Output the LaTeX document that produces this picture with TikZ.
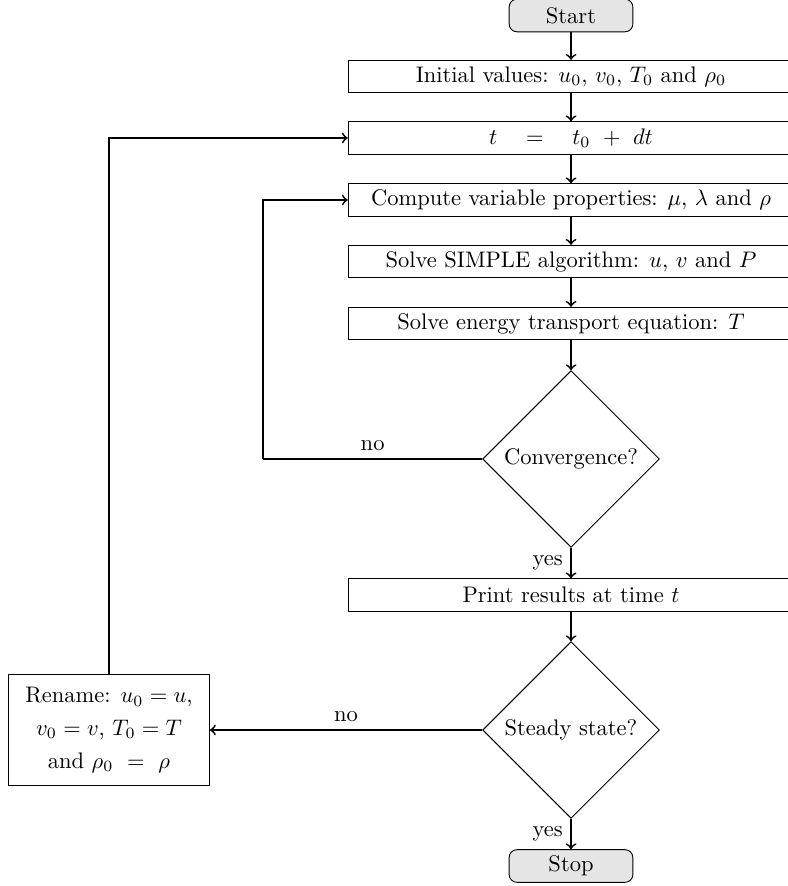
\documentclass[tikz,border=0pt]{standalone}
\usepackage{amsmath, amssymb}
\usepackage{tikz}
\usetikzlibrary{arrows, positioning, calc, shapes.geometric}

\tikzset{
  startstop/.style={draw, rounded corners=3.5pt, fill=gray!20, minimum width=55pt, minimum height=14.5pt, inner sep=1pt},
  process/.style={draw, minimum width=198pt, minimum height=14.4pt, inner sep=1pt},
  decision/.style={draw, diamond, minimum width=78.5pt, minimum height=78.5pt, inner sep=0pt},
  renamebox/.style={draw, minimum width=89.3pt, minimum height=49.3pt, align=center, inner sep=1pt},
  flow/.style={->, thick}
}

\begin{document}
\begin{tikzpicture}[x=0.4444pt, y=-0.4444pt]
\useasboundingbox (0,0) rectangle (787,886);

% main column
\node[startstop] (start) at (571,15.5) {Start};
\node[process] (init) at (571,76.5) {Initial values: $u_0$, $v_0$, $T_0$ and $\rho_0$};
\node[process] (time) at (571,138) {$t\quad=\quad t_0\ +\ dt$};
\node[process] (props) at (571,200) {Compute variable properties: $\mu$, $\lambda$ and $\rho$};
\node[process] (simple) at (571,261.5) {Solve SIMPLE algorithm: $u$, $v$ and $P$};
\node[process] (energy) at (571,323.5) {Solve energy transport equation: $T$};
\node[decision] (conv) at (571,459) {Convergence?};
\node[process] (print) at (571,595) {Print results at time $t$};
\node[decision] (steady) at (571,730) {Steady state?};
\node[startstop] (stop) at (571,866) {Stop};

% rename
\node[renamebox] (rename) at (109,730) {Rename: $u_0 = u$,\\[2.6pt] $v_0 = v$, $T_0 = T$\\[2.6pt] and $\rho_0\ =\ \rho$};
\coordinate (back) at (263,459);

% arrows
\draw[flow] (start) -- (init);
\draw[flow] (init) -- (time);
\draw[flow] (time) -- (props);
\draw[flow] (props) -- (simple);
\draw[flow] (simple) -- (energy);
\draw[flow] (energy) -- (conv);
\draw[flow] (conv) -- node[midway, left] {yes} (print);
\draw[flow] (print) -- (steady);
\draw[flow] (steady) -- node[midway, left] {yes} (stop);

% loops
\draw[thick] (conv.west) -- node[midway, above] {no} (back);
\draw[flow] (back) |- (props.west);
\draw[flow] (steady.west) -- node[midway, above] {no} (rename.east);
\draw[flow] (rename.north) |- (time.west);

\end{tikzpicture}
\end{document}
